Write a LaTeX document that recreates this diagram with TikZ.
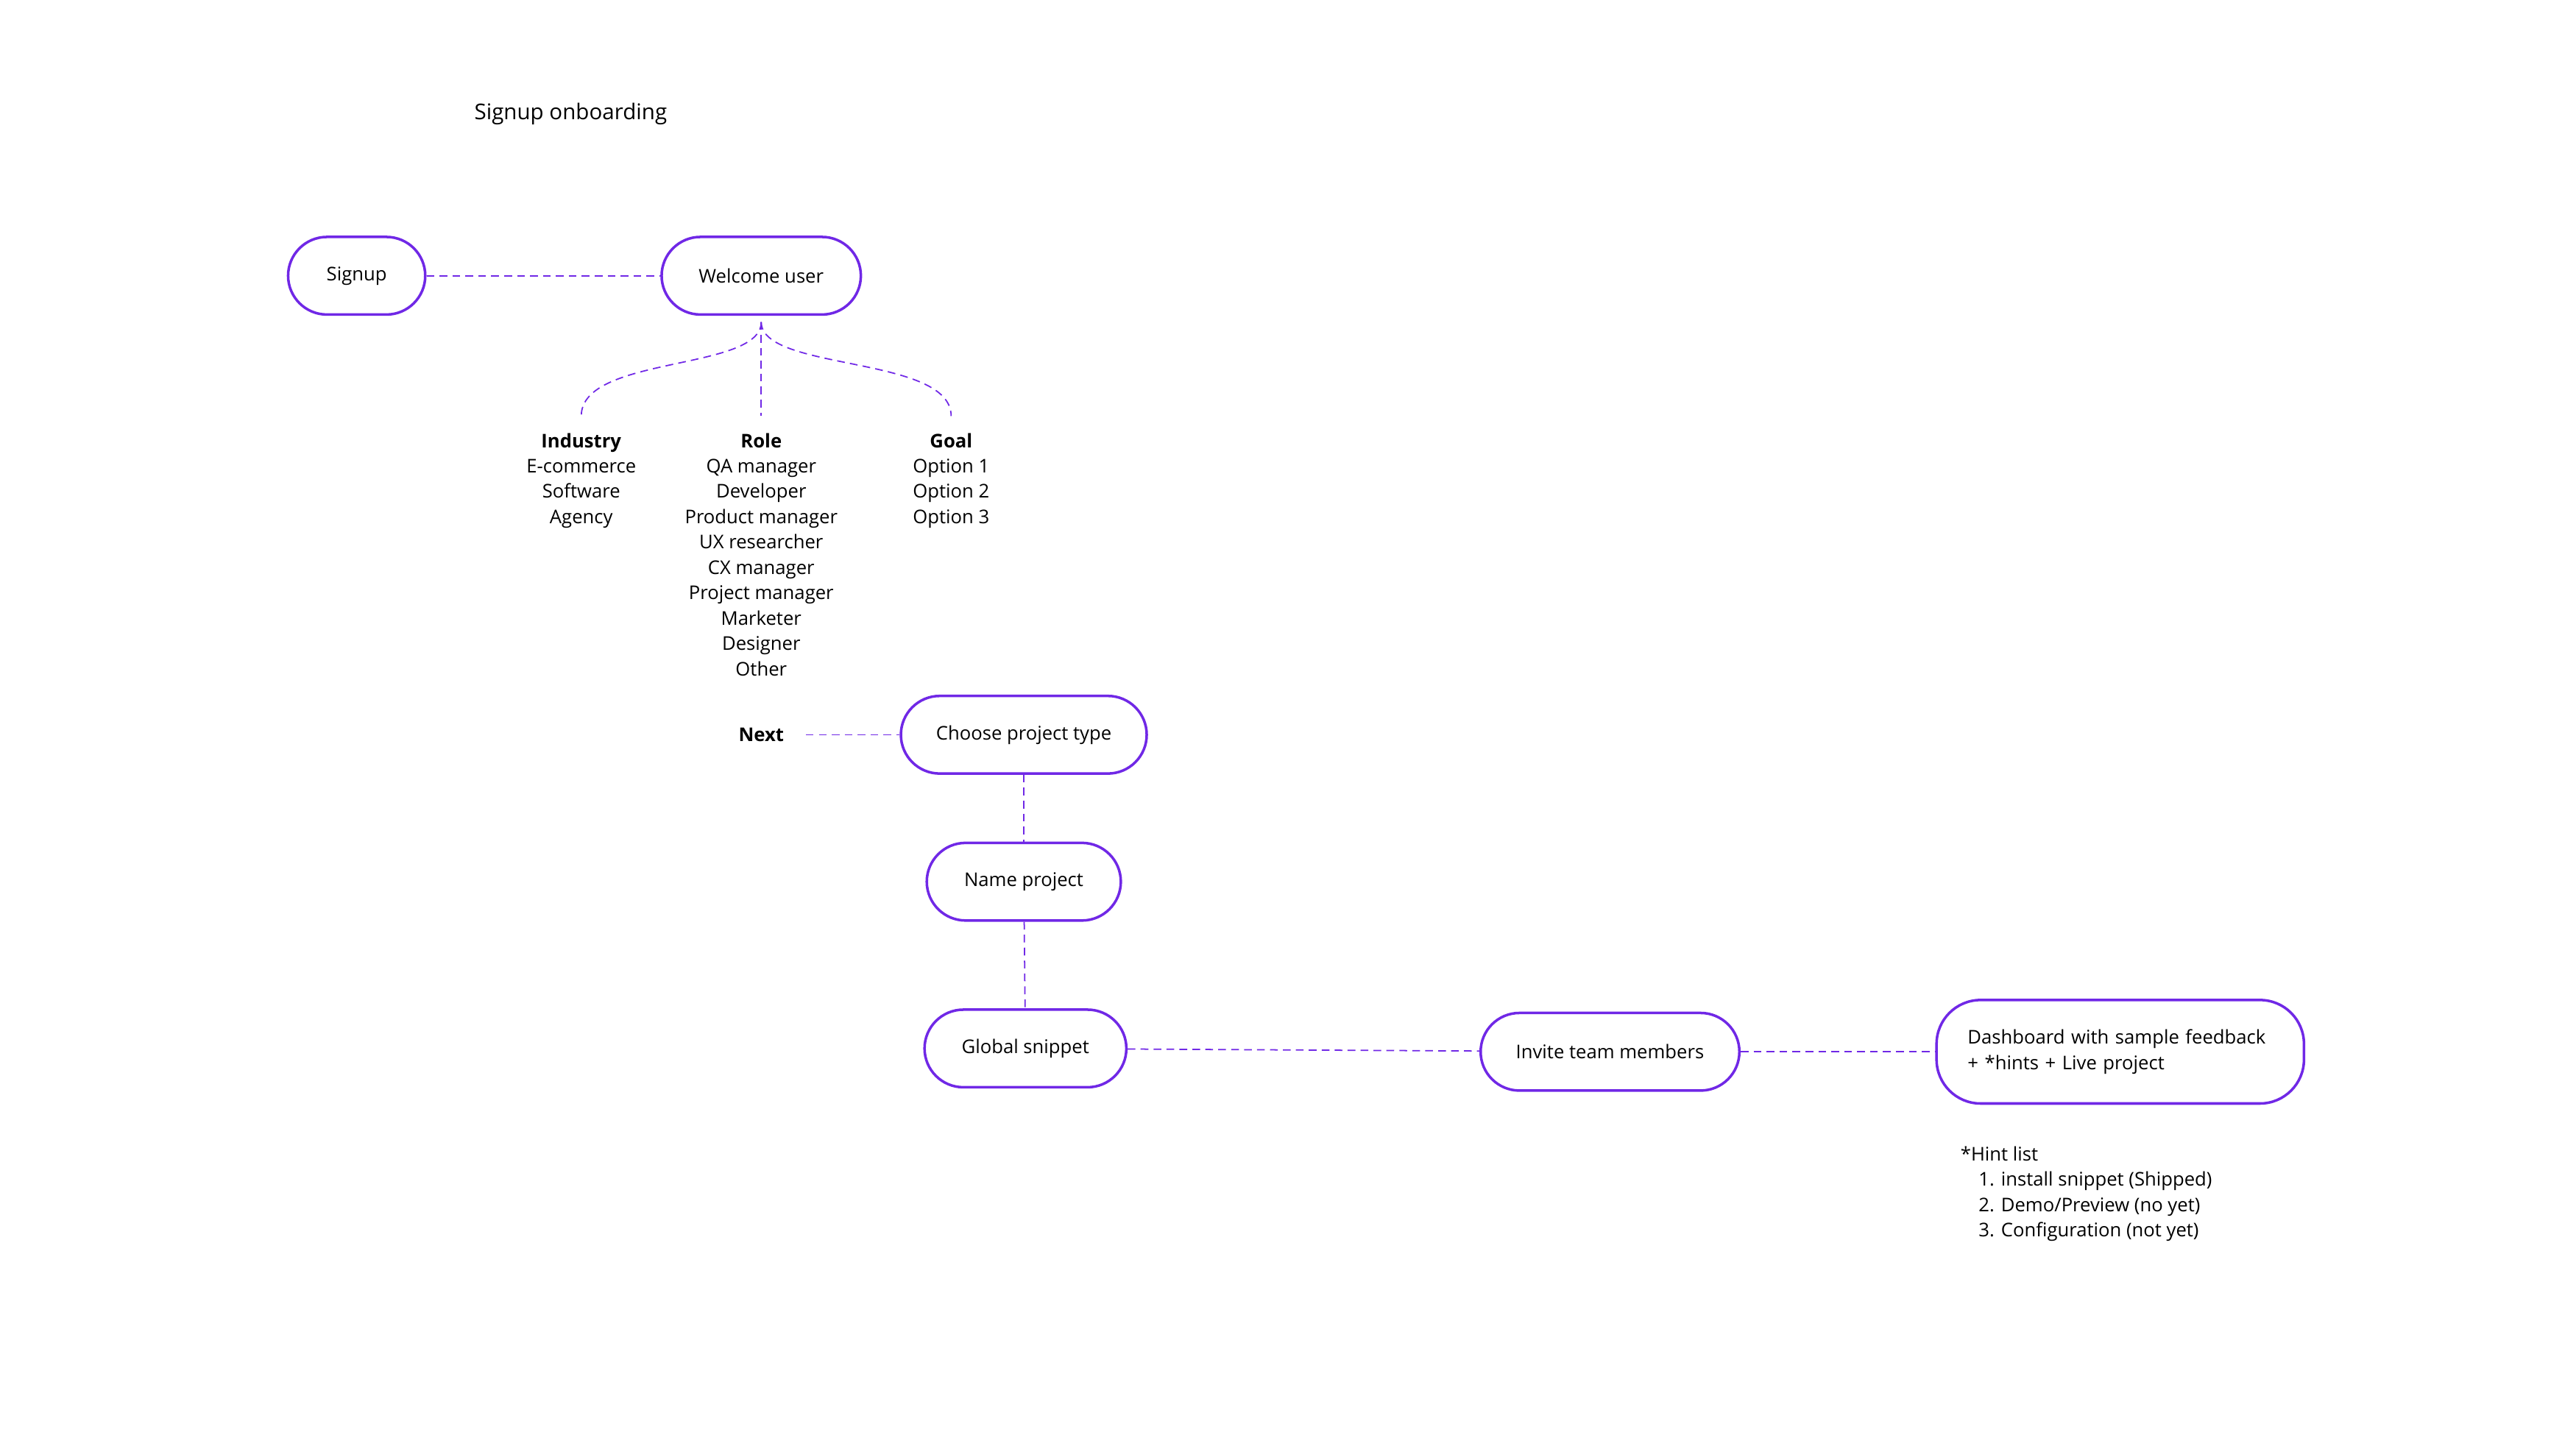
\documentclass[tikz,border=0pt]{standalone}
\usepackage{fontspec}
\setmainfont{Open Sans}
\usetikzlibrary{positioning}

\begin{document}
\begin{tikzpicture}[x=0.022436cm, y=-0.022436cm,
        flowbox/.style={draw=boxpurple, line width=1pt, rounded corners=15pt, minimum height=30pt, align=center, font=\fontsize{7.3}{9.8}\selectfont},
        link/.style={draw=boxpurple, densely dashed, line width=0.5pt},
        plain/.style={align=center, font=\fontsize{7.3}{9.8}\selectfont, inner sep=0pt}]
        % Colours
        \definecolor{boxpurple}{RGB}{112,40,230}

        % Canvas and title
        \useasboundingbox (0,0) rectangle (1560,877.5);
        \node[anchor=west, font=\fontsize{8.4}{10}\selectfont, inner sep=0pt] (title) at (287,69) {Signup onboarding};

        % Main flow boxes
        \node[flowbox, minimum width=53pt] (signup) at (216,167) {Signup};
        \node[flowbox, minimum width=77pt] (welcome) at (461,167) {Welcome user};
        \node[flowbox, minimum width=95pt] (choose) at (620,445) {Choose project type};
        \node[flowbox, minimum width=75pt] (name) at (620,534) {Name project};
        \node[flowbox, minimum width=78pt] (snippet) at (621,635) {Global snippet};
        \node[flowbox, minimum width=100pt] (invite) at (975,637) {Invite team members};
        \node[flowbox, minimum width=142pt, minimum height=40pt, rounded corners=17pt, align=left, text width=118pt] (dash) at (1284,637) {Dashboard with sample feedback\\+ *hints + Live project};

        % Question lists
        \node[plain, anchor=north] (industry) at (352,262) {\textbf{Industry}\\E-commerce\\Software\\Agency};
        \node[plain, anchor=north] (role) at (461,262) {\textbf{Role}\\QA manager\\Developer\\Product manager\\UX researcher\\CX manager\\Project manager\\Marketer\\Designer\\Other};
        \node[plain, anchor=north] (goal) at (576,262) {\textbf{Goal}\\Option 1\\Option 2\\Option 3};
        \node[plain, font=\fontsize{7.3}{9.8}\selectfont\bfseries] (next) at (461,445) {Next};

        % Hint list
        \node[plain, anchor=north west, align=left] (hints) at (1187,694) {*Hint list\\
            \hspace*{7pt}1. install snippet (Shipped)\\
            \hspace*{7pt}2. Demo/Preview (no yet)\\
            \hspace*{7pt}3. Configuration (not yet)};

        % Connectors
        \coordinate (fork) at (461,195);
        \draw[link] (signup) -- (welcome);
        \draw[link] (fork) .. controls (461,225) and (352,215) .. (industry.north |- 0,252);
        \draw[link] (fork) -- (461,252);
        \draw[link] (fork) .. controls (461,225) and (576,215) .. (goal.north |- 0,252);
        \draw[link] (next.east) ++(13,0) -- (choose);
        \draw[link] (choose) -- (name);
        \draw[link] (name) -- (snippet);
        \draw[link] (snippet) -- (invite);
        \draw[link] (invite) -- (dash);

    \end{tikzpicture}
\end{document}
